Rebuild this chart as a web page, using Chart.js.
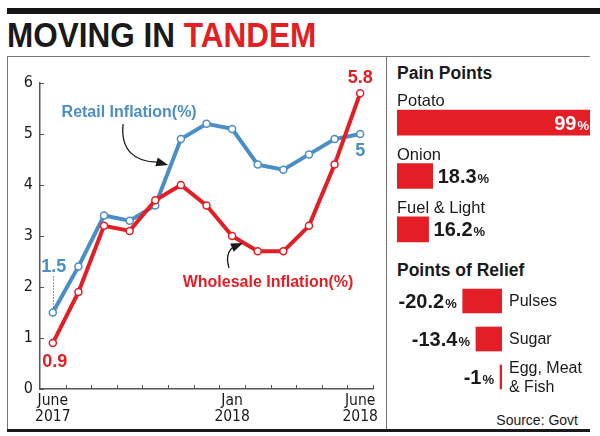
<!DOCTYPE html>
<html>
<head>
<meta charset="utf-8">
<title>Moving in tandem</title>
<script src="https://cdn.jsdelivr.net/npm/chart.js@4.4.1/dist/chart.umd.min.js"></script>
<style>
  body { margin: 0; width: 600px; height: 436px; background: #fff; position: relative; overflow: hidden;
         font-family: "Liberation Sans", Arial, sans-serif; color: #1a1a1a; }
  .abs { position: absolute; }
  #topbar { left: 7px; top: 8px; width: 593px; height: 6px; background: #151515; }
  #title { left: 7px; top: 17px; font: bold 35px/35px "Liberation Sans", Arial, sans-serif;
           transform: scaleX(0.9); transform-origin: 0 0; white-space: nowrap; }
  #title span { color: #e31e24; }
  #frameTop { left: 7px; top: 56px; width: 583px; height: 1px; background: #777; }
  #frameLeft { left: 7px; top: 56px; width: 1px; height: 374px; background: #777; }
  #divider { left: 386px; top: 56px; width: 1px; height: 374px; background: #777; }
  #frameBottom { left: 7px; top: 429px; width: 583px; height: 3px; background: #1a1a1a; }
  .head { left: 397px; font: bold 17.5px/20px "Liberation Sans", Arial, sans-serif; white-space: nowrap; }
  #painHead { top: 63px; }
  #reliefHead { top: 260px; }
  #source { right: 22px; top: 412px; font: 14px/16px "Liberation Sans", Arial, sans-serif; }
  canvas { position: absolute; }
  #trend { left: 0; top: 0; }
  #pain { left: 388px; top: 56px; }
  #relief { left: 388px; top: 256px; }
</style>
</head>
<body>
<div class="abs" id="topbar"></div>
<div class="abs" id="title">MOVING IN <span>TANDEM</span></div>
<div class="abs" id="frameTop"></div>
<div class="abs" id="frameLeft"></div>
<div class="abs" id="divider"></div>
<div class="abs" id="frameBottom"></div>
<div class="abs head" id="painHead">Pain Points</div>
<div class="abs head" id="reliefHead">Points of Relief</div>
<div class="abs" id="source">Source: Govt</div>

<canvas id="trend" width="388" height="436"></canvas>
<canvas id="pain" width="212" height="201"></canvas>
<canvas id="relief" width="212" height="174"></canvas>

<script>
// ---- data ----
const months = ["Jun 2017", "Jul 2017", "Aug 2017", "Sep 2017", "Oct 2017", "Nov 2017", "Dec 2017",
                "Jan 2018", "Feb 2018", "Mar 2018", "Apr 2018", "May 2018", "Jun 2018"];
const tickLabels = [["June", "2017"], "", "", "", "", "", "", ["Jan", "2018"], "", "", "", "", ["June", "2018"]];
const retail = [1.5, 2.4, 3.4, 3.3, 3.6, 4.9, 5.2, 5.1, 4.4, 4.3, 4.6, 4.9, 5.0];
const wholesale = [0.9, 1.9, 3.2, 3.1, 3.7, 4.0, 3.6, 3.0, 2.7, 2.7, 3.2, 4.4, 5.8];

const painItems = ["Potato", "Onion", "Fuel & Light"];
const painValues = [99, 18.3, 16.2];
const reliefItems = [["Pulses"], ["Sugar"], ["Egg, Meat", "& Fish"]];
const reliefValues = [-20.2, -13.4, -1];

// ---- styles ----
const BLUE = "#4a8ec6";
const RED = "#e31e24";
const INK = "#1a1a1a";
const SANS = '"Liberation Sans", Arial, sans-serif';
const NARROW = '"Liberation Sans Narrow", "Arial Narrow", "DejaVu Sans Condensed", sans-serif';

// small tick marks pointing into the plot
const innerTicks = {
  id: "innerTicks",
  beforeDatasetsDraw(chart) {
    const { ctx, scales: { x, y } } = chart;
    const half = (x.getPixelForValue(1) - x.getPixelForValue(0)) / 2;
    ctx.save();
    ctx.strokeStyle = "#555";
    ctx.lineWidth = 1;
    ctx.beginPath();
    months.forEach((m, i) => {
      const px = Math.round(x.getPixelForValue(i) + half) + 0.5;
      ctx.moveTo(px, y.bottom);
      ctx.lineTo(px, y.bottom - 4);
    });
    y.ticks.forEach(t => {
      const py = Math.round(y.getPixelForValue(t.value)) + 0.5;
      ctx.moveTo(x.left, py);
      ctx.lineTo(x.left + 4, py);
    });
    ctx.stroke();
    ctx.restore();
  }
};

function arrow(ctx, pts, tip) {
  // pts: start, cp1, cp2, end
  ctx.beginPath();
  ctx.moveTo(pts[0][0], pts[0][1]);
  ctx.bezierCurveTo(pts[1][0], pts[1][1], pts[2][0], pts[2][1], pts[3][0], pts[3][1]);
  ctx.stroke();
  const dx = tip[0] - pts[3][0], dy = tip[1] - pts[3][1];
  const len = Math.hypot(dx, dy), ux = dx / len, uy = dy / len;
  const L = 12, W = 4.5;
  const bx = tip[0] - ux * L, by = tip[1] - uy * L;
  ctx.beginPath();
  ctx.moveTo(tip[0], tip[1]);
  ctx.lineTo(bx - uy * W, by + ux * W);
  ctx.lineTo(bx + uy * W, by - ux * W);
  ctx.closePath();
  ctx.fill();
}

// series names, arrows and end values
const trendNotes = {
  id: "trendNotes",
  afterDatasetsDraw(chart) {
    const { ctx, scales: { x, y } } = chart;
    const r = chart.getDatasetMeta(0).data;
    const w = chart.getDatasetMeta(1).data;
    ctx.save();
    ctx.textAlign = "center";
    ctx.textBaseline = "middle";

    // dotted leader for the first retail value
    ctx.strokeStyle = "#333";
    ctx.lineWidth = 1;
    ctx.setLineDash([1, 2]);
    ctx.beginPath();
    ctx.moveTo(Math.round(r[0].x) + 0.5, r[0].y - 36);
    ctx.lineTo(Math.round(r[0].x) + 0.5, r[0].y - 5);
    ctx.stroke();
    ctx.setLineDash([]);

    ctx.font = "bold 18px " + SANS;
    ctx.fillStyle = BLUE;
    ctx.fillText(String(retail[0]), r[0].x + 1, r[0].y - 45);
    ctx.fillText(String(retail[12]), r[12].x, r[12].y + 17);
    ctx.fillStyle = RED;
    ctx.fillText(String(wholesale[0]), w[0].x + 2, w[0].y + 19);
    ctx.fillText(String(wholesale[12]), w[12].x, w[12].y - 15);

    // series names
    ctx.font = "bold 16px " + SANS;
    const ra = [x.getPixelForValue(2.98), y.getPixelForValue(5.41)];
    const wa = [x.getPixelForValue(8.4), y.getPixelForValue(2.08)];
    ctx.fillStyle = BLUE;
    ctx.fillText("Retail Inflation(%)", ra[0], ra[1]);
    ctx.fillStyle = RED;
    ctx.fillText("Wholesale Inflation(%)", wa[0], wa[1]);

    // arrows
    ctx.strokeStyle = INK;
    ctx.fillStyle = INK;
    ctx.lineWidth = 1.3;
    const off = (a, dx, dy) => [a[0] + dx, a[1] + dy];
    arrow(ctx, [off(ra, -6, 11), off(ra, -9, 37), off(ra, 6, 49), off(ra, 28, 49)], off(ra, 39, 52));
    arrow(ctx, [off(wa, -39, -15), off(wa, -43, -28), off(wa, -38, -35), off(wa, -32, -37)], off(wa, -25, -40));
    ctx.restore();
  }
};

new Chart(document.getElementById("trend"), {
  type: "line",
  data: {
    labels: months,
    datasets: [
      {
        label: "Retail Inflation(%)",
        data: retail,
        order: 1,
        borderColor: BLUE,
        borderWidth: 4,
        pointRadius: 3.5,
        pointBorderWidth: 1.5,
        pointBackgroundColor: "#fff",
        pointBorderColor: BLUE
      },
      {
        label: "Wholesale Inflation(%)",
        data: wholesale,
        order: 0,
        borderColor: RED,
        borderWidth: 4,
        pointRadius: 3.5,
        pointBorderWidth: 1.5,
        pointBackgroundColor: "#fff",
        pointBorderColor: RED
      }
    ]
  },
  options: {
    responsive: false,
    animation: false,
    clip: false,
    layout: { padding: { left: 0, right: 15, top: 83, bottom: 0 } },
    plugins: { legend: { display: false }, tooltip: { enabled: false } },
    scales: {
      x: {
        offset: true,
        grid: { display: false, drawTicks: false },
        border: { color: "#555", width: 1.5 },
        ticks: {
          autoSkip: false, maxRotation: 0, padding: 4, color: INK,
          font: { family: NARROW, size: 15.5, lineHeight: 1.05 },
          callback: (v, i) => tickLabels[i]
        },
        afterFit: s => { s.height = 47; }
      },
      y: {
        min: 0, max: 6,
        grid: { display: false, drawTicks: false },
        border: { color: "#555", width: 1.5 },
        ticks: { stepSize: 1, padding: 7, color: INK, font: { family: NARROW, size: 16 } },
        afterFit: s => { s.width = 40; }
      }
    }
  },
  plugins: [innerTicks, trendNotes]
});

// number in bold with a smaller % sign
function pct(ctx, value, xPos, yBase, align, color) {
  const num = String(value);
  ctx.font = "bold 20px " + SANS;
  const w1 = ctx.measureText(num).width;
  ctx.font = "bold 13px " + SANS;
  const w2 = ctx.measureText("%").width;
  const start = align === "right" ? xPos - w1 - w2 : xPos;
  ctx.fillStyle = color;
  ctx.textAlign = "left";
  ctx.textBaseline = "alphabetic";
  ctx.font = "bold 20px " + SANS;
  ctx.fillText(num, start, yBase);
  ctx.font = "bold 13px " + SANS;
  ctx.fillText("%", start + w1 + 1, yBase);
}

const painText = {
  id: "painText",
  afterDatasetsDraw(chart) {
    const ctx = chart.ctx;
    ctx.save();
    chart.getDatasetMeta(0).data.forEach((bar, i) => {
      const top = bar.y - bar.height / 2;
      ctx.fillStyle = INK;
      ctx.font = "16.5px " + SANS;
      ctx.textAlign = "left";
      ctx.textBaseline = "alphabetic";
      ctx.fillText(painItems[i], chart.chartArea.left, top - 4);
      if (i === 0) pct(ctx, painValues[i], bar.x - 2, bar.y + 7, "right", "#fff");
      else pct(ctx, painValues[i], bar.x + 5, bar.y + 7, "left", INK);
    });
    ctx.restore();
  }
};

const reliefText = {
  id: "reliefText",
  afterDatasetsDraw(chart) {
    const ctx = chart.ctx;
    ctx.save();
    chart.getDatasetMeta(0).data.forEach((bar, i) => {
      pct(ctx, reliefValues[i], bar.x - 7, bar.y + 7, "right", INK);
      const lines = reliefItems[i];
      ctx.fillStyle = INK;
      ctx.font = "16px " + SANS;
      ctx.textAlign = "left";
      ctx.textBaseline = "middle";
      lines.forEach((t, k) => {
        ctx.fillText(t, bar.base + 7, bar.y + (k - (lines.length - 1) / 2) * 19 + 1);
      });
    });
    ctx.restore();
  }
};

const barOptions = (padding, min, max) => ({
  responsive: false,
  animation: false,
  indexAxis: "y",
  layout: { padding },
  plugins: { legend: { display: false }, tooltip: { enabled: false } },
  scales: {
    x: { display: false, min, max },
    y: { display: false }
  }
});

new Chart(document.getElementById("pain"), {
  type: "bar",
  data: {
    labels: painItems,
    datasets: [{ data: painValues, backgroundColor: RED, barThickness: 25 }]
  },
  options: barOptions({ left: 9, right: 10, top: 40, bottom: 1 }, 0, 99),
  plugins: [painText]
});

new Chart(document.getElementById("relief"), {
  type: "bar",
  data: {
    labels: reliefItems.map(l => l.join(" ")),
    datasets: [{ data: reliefValues, backgroundColor: RED, barThickness: 24 }]
  },
  options: barOptions({ left: 9, right: 98, top: 26, bottom: 34 }, -54, 0),
  plugins: [reliefText]
});
</script>
</body>
</html>
